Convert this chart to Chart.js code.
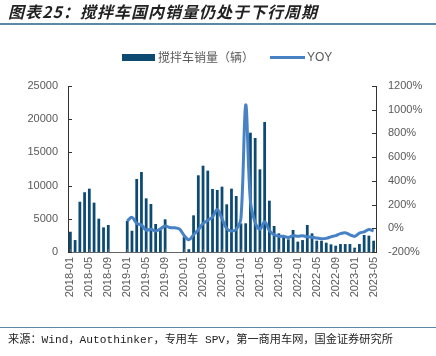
<!DOCTYPE html>
<html><head><meta charset="utf-8">
<script src="https://cdn.jsdelivr.net/npm/chart.js@4/dist/chart.umd.min.js"></script>
<style>
html,body{margin:0;padding:0;background:#fff;}
#wrap{position:relative;width:436px;height:356px;overflow:hidden;font-family:"Noto Sans CJK SC",sans-serif;}
#c{position:absolute;left:0;top:0;}
.abs{position:absolute;white-space:nowrap;}
#title{left:8px;top:0px;font-size:16px;line-height:22px;font-weight:bold;font-style:italic;color:#222;letter-spacing:1px;}
#rule1{left:0;top:23px;width:436px;height:2px;background:#5b8aa6;}
#rule2{left:0;top:327px;width:436px;height:1px;background:#5b8aa6;}
#src{left:8px;top:332px;font-size:11.2px;line-height:16px;color:#222;font-family:"Liberation Mono","Noto Sans CJK SC",monospace;}
.lg{font-size:12px;line-height:14px;color:#595959;top:50px;}
</style></head>
<body><div id="wrap">
<canvas id="c" width="436" height="356"></canvas>
<div class="abs" id="title">图表25：搅拌车国内销量仍处于下行周期</div>
<div class="abs" id="rule1"></div>
<div class="abs" style="left:122px;top:54px;width:33px;height:7px;background:#0d4a72;"></div>
<div class="abs lg" style="left:158px;">搅拌车销量（辆）</div>
<div class="abs" style="left:270px;top:56px;width:35px;height:3px;background:#4682c4;"></div>
<div class="abs lg" style="left:307px;font-family:'Liberation Sans',sans-serif;">YOY</div>
<div class="abs" id="rule2"></div>
<div class="abs" id="src">来源：Wind，Autothinker，专用车 SPV，第一商用车网，国金证券研究所</div>
</div>
<script>
const months = [];
for (let y = 2018; y <= 2023; y++) for (let m = 1; m <= 12; m++) {
  if (y === 2023 && m > 5) break;
  months.push(y + '-' + String(m).padStart(2, '0'));
}
const sales2018 = [3050, 1800, 7570, 9000, 9540, 7430, 5020, 3710, 4070, null, null, null];
const sales2019 = [4700, 3200, 11000, 12050, 8080, 7230, 4220, 3300, 4920, null, null, null];
const sales2020 = [2250, 420, 5520, 11550, 13000, 12250, 9490, 9340, 9840, 7180, 9540, 8430];
const sales2021 = [4300, 4320, 17970, 17170, 12450, 19580, 7730, 3920, 2810, 2310, 1910, 3310];
const sales2022 = [1560, 1800, 4070, 2810, 1710, 1700, 1400, 1150, 950, 1200, 1200, 1200];
const sales2023 = [650, 1200, 2560, 2460, 1700];
const sales = [].concat(sales2018, sales2019, sales2020, sales2021, sales2022, sales2023);

const yoy2018 = [null, null, null, null, null, null, null, null, null, null, null, null];
const yoy2019 = [62, 92, 42, 27, -15, -8, -22, -5, 20, 6, 4, -5];
const yoy2020 = [-60, -97, -55, -12, 40, 67, 95, 158, 82, -3, -22, -10];
const yoy2021 = [85, 1040, 226, 49, -8, 55, -19, -55, -68, -68, -78, -62];
const yoy2022 = [-68, -62, -72, -75, -82, -88, -85, -72, -62, -45, -38, -55];
const yoy2023 = [-68, -40, -30, -10, -22];
const yoy = [].concat(yoy2018, yoy2019, yoy2020, yoy2021, yoy2022, yoy2023);

const leftTicks = [0, 5000, 10000, 15000, 20000, 25000];
const rightTicks = [-200, 0, 200, 400, 600, 800, 1000, 1200];

const BAR = '#0d4a72', LINE = '#4682c4', TXT = '#595959';

const innerTicks = {
  id: 'innerTicks',
  afterDraw(chart) {
    const ctx = chart.ctx, a = chart.chartArea;
    ctx.save();
    ctx.strokeStyle = '#333'; ctx.lineWidth = 1;
    const y = chart.scales.y, y1 = chart.scales.y1, x = chart.scales.x;
    y.ticks.forEach((t, i) => { const p = Math.round(y.getPixelForTick(i)) + 0.5; ctx.beginPath(); ctx.moveTo(a.left, p); ctx.lineTo(a.left + 4, p); ctx.stroke(); });
    y1.ticks.forEach((t, i) => { const p = Math.round(y1.getPixelForTick(i)) + 0.5; ctx.beginPath(); ctx.moveTo(a.right, p); ctx.lineTo(a.right - 4, p); ctx.stroke(); });
    ctx.strokeStyle = '#666';
    x.ticks.forEach((t, i) => { if (i % 4 === 0) { const p = Math.round(x.getPixelForTick(i)) + 0.5; ctx.beginPath(); ctx.moveTo(p, a.bottom); ctx.lineTo(p, a.bottom - 3); ctx.stroke(); } });
    ctx.restore();
  }
};

new Chart(document.getElementById('c'), {
  data: {
    labels: months,
    datasets: [
      { type: 'line', label: 'YOY', data: yoy, yAxisID: 'y1', borderColor: LINE, backgroundColor: LINE,
        borderWidth: 3, pointRadius: 0, tension: 0.35, spanGaps: false, order: 0 },
      { type: 'bar', label: '搅拌车销量（辆）', data: sales, yAxisID: 'y', backgroundColor: BAR,
        barPercentage: 0.65, categoryPercentage: 0.9, order: 1 }
    ]
  },
  options: {
    responsive: false, animation: false,
    layout: { padding: { top: 86, bottom: 52, left: 0, right: 0 } },
    plugins: { legend: { display: false }, tooltip: { enabled: false } },
    scales: {
      x: {
        offset: true,
        grid: { display: false, drawTicks: false },
        border: { display: true, color: '#666', width: 1 },
        ticks: { autoSkip: false, maxRotation: 90, minRotation: 90, padding: 5, color: TXT,
          font: { family: 'Liberation Sans', size: 11 },
          callback: (v, i) => (i % 4 === 0 ? months[i] : '') },
        afterFit: s => { s.height = 52; }
      },
      y: {
        position: 'left', min: 0, max: 25000,
        grid: { display: false, drawTicks: false },
        border: { display: true, color: '#333', width: 1 },
        afterBuildTicks: s => { s.ticks = leftTicks.map(v => ({ value: v })); },
        ticks: { padding: 10, color: TXT, font: { family: 'Liberation Sans', size: 11 }, callback: v => String(v) },
        afterFit: s => { s.width = 68; }
      },
      y1: {
        position: 'right', min: -200, max: 1200,
        grid: { display: false, drawTicks: false },
        border: { display: true, color: '#333', width: 1 },
        afterBuildTicks: s => { s.ticks = rightTicks.map(v => ({ value: v })); },
        ticks: { padding: 12, color: TXT, font: { family: 'Liberation Sans', size: 11 }, callback: v => v + '%' },
        afterFit: s => { s.width = 60; }
      }
    }
  },
  plugins: [innerTicks]
});
</script>
</body></html>
